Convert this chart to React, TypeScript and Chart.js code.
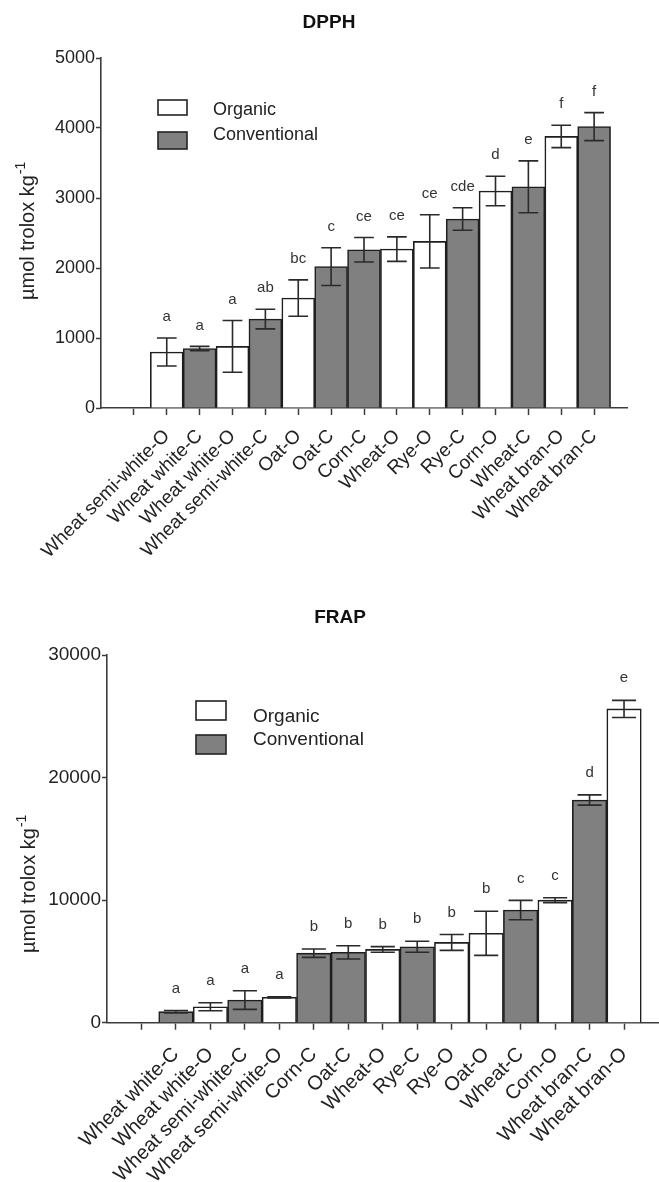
import React, { useEffect, useRef } from 'react';
import { Chart, registerables } from 'chart.js';

Chart.register(...registerables);

// ---------------- data ----------------
const dpphCategories = [
  'Wheat semi-white-O', 'Wheat white-C', 'Wheat white-O', 'Wheat semi-white-C',
  'Oat-O', 'Oat-C', 'Corn-C', 'Wheat-O', 'Rye-O', 'Rye-C', 'Corn-O', 'Wheat-C',
  'Wheat bran-O', 'Wheat bran-C',
];
const dpphMeans = [800, 850, 880, 1270, 1570, 2020, 2260, 2270, 2380, 2700, 3100, 3160, 3880, 4020];
const dpphErrors = [200, 30, 370, 140, 260, 270, 175, 175, 380, 160, 210, 370, 160, 200];
const dpphLetters = ['a', 'a', 'a', 'ab', 'bc', 'c', 'ce', 'ce', 'ce', 'cde', 'd', 'e', 'f', 'f'];
const dpphTicks = [0, 1000, 2000, 3000, 4000, 5000];

const frapCategories = [
  'Wheat white-C', 'Wheat white-O', 'Wheat semi-white-C', 'Wheat semi-white-O',
  'Corn-C', 'Oat-C', 'Wheat-O', 'Rye-C', 'Rye-O', 'Oat-O', 'Wheat-C', 'Corn-O',
  'Wheat bran-C', 'Wheat bran-O',
];
const frapMeans = [900, 1300, 1850, 2070, 5670, 5740, 5980, 6200, 6550, 7290, 9190, 10000, 18170, 25600];
const frapErrors = [100, 330, 760, 50, 340, 540, 230, 450, 650, 1800, 790, 200, 420, 700];
const frapLetters = ['a', 'a', 'a', 'a', 'b', 'b', 'b', 'b', 'b', 'b', 'c', 'c', 'd', 'e'];
const frapTicks = [0, 10000, 20000, 30000];

const seriesNames = ['Organic', 'Conventional'];
const yAxisTitleMain = 'µmol trolox kg';
const yAxisTitleSup = '-1';

// ---------------- styling ----------------
const FONT = '"Liberation Sans", Arial, Helvetica, sans-serif';
const GRAY = '#808080';
const WHITE = '#ffffff';
const INK = '#2a2a2a';
const AXIS = '#3c3c3c';

type Panel = {
  title: string;
  categories: string[];
  means: number[];
  errors: number[];
  letters: string[];
  ticks: number[];
  top: number;
  width: number;
  height: number;
  area: { left: number; top: number; right: number; bottom: number };
  font: number;
  xFont: number;
  xPad: number;
  titlePos: { x: number; y: number; size: number };
  yTitle: { x: number; y: number; size: number };
  legend: { boxX: number; boxW: number; box1: [number, number]; box2: [number, number]; textX: number; base1: number; base2: number };
  capRatio: number;
  letterGap: number;
};

const panels: Panel[] = [
  {
    title: 'DPPH',
    categories: dpphCategories,
    means: dpphMeans,
    errors: dpphErrors,
    letters: dpphLetters,
    ticks: dpphTicks,
    top: 0,
    width: 659,
    height: 585,
    area: { left: 101, top: 58, right: 627, bottom: 408 },
    font: 18,
    xFont: 19,
    xPad: 10,
    titlePos: { x: 329, y: 28, size: 19 },
    yTitle: { x: 34, y: 300, size: 20 },
    legend: { boxX: 158, boxW: 29, box1: [100, 15], box2: [132, 17], textX: 213, base1: 115, base2: 140 },
    capRatio: 0.6,
    letterGap: 21,
  },
  {
    title: 'FRAP',
    categories: frapCategories,
    means: frapMeans,
    errors: frapErrors,
    letters: frapLetters,
    ticks: frapTicks,
    top: 585,
    width: 659,
    height: 597,
    area: { left: 107, top: 70, right: 658.5, bottom: 437.7 },
    font: 19,
    xFont: 20,
    xPad: 13,
    titlePos: { x: 340, y: 38, size: 19 },
    yTitle: { x: 35, y: 368, size: 20 },
    legend: { boxX: 196, boxW: 30, box1: [116, 19], box2: [150, 19], textX: 253, base1: 136.7, base2: 160 },
    capRatio: 0.7,
    letterGap: 22,
  },
];

// ---------------- plugins ----------------
const errorBarsPlugin = {
  id: 'errorBarsLetters',
  afterDatasetsDraw(chart: any, _args: any, opts: any) {
    const { ctx } = chart;
    const y = chart.scales.y;
    chart.data.datasets.forEach((ds: any, di: number) => {
      const meta = chart.getDatasetMeta(di);
      meta.data.forEach((bar: any, i: number) => {
        const v = ds.data[i];
        if (v == null) return;
        const e = ds.errors[i] ?? 0;
        const pTop = y.getPixelForValue(v + e);
        const pBot = y.getPixelForValue(v - e);
        const half = (bar.width * opts.capRatio) / 2;
        ctx.save();
        ctx.strokeStyle = INK;
        ctx.lineWidth = 1.6;
        ctx.beginPath();
        ctx.moveTo(bar.x, pTop);
        ctx.lineTo(bar.x, pBot);
        ctx.moveTo(bar.x - half, pTop);
        ctx.lineTo(bar.x + half, pTop);
        ctx.moveTo(bar.x - half, pBot);
        ctx.lineTo(bar.x + half, pBot);
        ctx.stroke();
        const letter = ds.letters[i];
        if (letter) {
          ctx.fillStyle = '#333';
          ctx.font = `15px ${FONT}`;
          ctx.textAlign = 'center';
          ctx.textBaseline = 'middle';
          ctx.fillText(letter, bar.x, pTop - opts.letterGap);
        }
        ctx.restore();
      });
    });
  },
};

const panelDecorPlugin = {
  id: 'panelDecor',
  afterDraw(chart: any, _args: any, opts: any) {
    const { ctx } = chart;
    ctx.save();
    // title
    ctx.fillStyle = '#111';
    ctx.font = `bold ${opts.titlePos.size}px ${FONT}`;
    ctx.textAlign = 'center';
    ctx.textBaseline = 'alphabetic';
    ctx.fillText(opts.title, opts.titlePos.x, opts.titlePos.y);
    // y axis title with superscript
    const yt = opts.yTitle;
    ctx.save();
    ctx.translate(yt.x, yt.y);
    ctx.rotate(-Math.PI / 2);
    ctx.fillStyle = '#222';
    ctx.textAlign = 'left';
    ctx.textBaseline = 'alphabetic';
    ctx.font = `${yt.size}px ${FONT}`;
    ctx.fillText(yAxisTitleMain, 0, 0);
    const w = ctx.measureText(yAxisTitleMain).width;
    ctx.font = `${Math.round(yt.size * 0.68)}px ${FONT}`;
    ctx.fillText(yAxisTitleSup, w + 1, -yt.size * 0.45);
    ctx.restore();
    // legend
    const L = opts.legend;
    const boxes = [L.box1, L.box2];
    const bases = [L.base1, L.base2];
    chart.data.datasets.forEach((ds: any, i: number) => {
      const [by, bh] = boxes[i];
      ctx.fillStyle = ds.backgroundColor;
      ctx.fillRect(L.boxX, by, L.boxW, bh);
      ctx.strokeStyle = '#222';
      ctx.lineWidth = 1.6;
      ctx.strokeRect(L.boxX, by, L.boxW, bh);
      ctx.fillStyle = '#222';
      ctx.font = `${opts.font}px ${FONT}`;
      ctx.textAlign = 'left';
      ctx.textBaseline = 'alphabetic';
      ctx.fillText(ds.label, L.textX, bases[i]);
    });
    ctx.restore();
  },
};

function buildConfig(p: Panel): any {
  const labels = ['', '', ...p.categories, ''];
  const lastIndex = labels.length - 1;
  const mk = (suffix: string) => labels.map((_, i) => {
    const k = i - 2;
    if (k < 0 || k >= p.categories.length) return null;
    return p.categories[k].endsWith(suffix) ? p.means[k] : null;
  });
  const errs = labels.map((_, i) => {
    const k = i - 2;
    return k >= 0 && k < p.errors.length ? p.errors[k] : null;
  });
  const lets = labels.map((_, i) => {
    const k = i - 2;
    return k >= 0 && k < p.letters.length ? p.letters[k] : null;
  });
  const barCommon = {
    borderColor: '#1e1e1e',
    borderWidth: 1.6,
    borderSkipped: 'start',
    categoryPercentage: 1,
    barPercentage: 1,
    grouped: false,
    errors: errs,
    letters: lets,
  };
  return {
    type: 'bar',
    data: {
      labels,
      datasets: [
        { ...barCommon, label: seriesNames[0], data: mk('-O'), backgroundColor: WHITE },
        { ...barCommon, label: seriesNames[1], data: mk('-C'), backgroundColor: GRAY },
      ],
    },
    options: {
      animation: false,
      responsive: false,
      devicePixelRatio: 1,
      layout: {
        padding: { top: p.area.top, left: 0, right: p.width - p.area.right, bottom: 0 },
      },
      plugins: {
        legend: { display: false },
        title: { display: false },
        tooltip: { enabled: false },
        errorBarsLetters: { capRatio: p.capRatio, letterGap: p.letterGap },
        panelDecor: { title: p.title, titlePos: p.titlePos, yTitle: p.yTitle, legend: p.legend, font: p.font },
      },
      scales: {
        x: {
          type: 'category',
          offset: false,
          grid: {
            offset: false,
            drawOnChartArea: false,
            drawTicks: true,
            tickLength: 7,
            tickWidth: 1.5,
            tickColor: (c: any) => (c.index === 0 || c.index === lastIndex ? 'rgba(0,0,0,0)' : AXIS),
          },
          border: { display: true, color: AXIS, width: 1.6 },
          ticks: {
            autoSkip: false,
            minRotation: 45,
            maxRotation: 45,
            padding: p.xPad,
            color: '#222',
            font: { family: FONT, size: p.xFont },
          },
          afterFit: (s: any) => {
            s.height = p.height - p.area.bottom;
            s.paddingLeft = 0;
            s.paddingRight = 0;
          },
        },
        y: {
          min: 0,
          max: p.ticks[p.ticks.length - 1],
          afterBuildTicks: (s: any) => {
            s.ticks = p.ticks.map((v) => ({ value: v }));
          },
          grid: {
            drawOnChartArea: false,
            drawTicks: true,
            tickLength: 5,
            tickWidth: 1.5,
            tickColor: AXIS,
          },
          border: { display: true, color: AXIS, width: 1.6 },
          ticks: {
            padding: 1,
            color: '#222',
            font: { family: FONT, size: p.font },
            callback: (v: any) => String(v),
          },
          title: { display: false },
          afterFit: (s: any) => {
            s.width = p.area.left;
          },
        },
      },
    },
    plugins: [errorBarsPlugin, panelDecorPlugin],
  };
}

function BarPanel({ panel }: { panel: Panel }) {
  const ref = useRef<HTMLCanvasElement>(null);
  useEffect(() => {
    const chart = new Chart(ref.current as HTMLCanvasElement, buildConfig(panel));
    return () => chart.destroy();
  }, [panel]);
  return (
    <div style={{ position: 'absolute', left: 0, top: panel.top, width: panel.width, height: panel.height }}>
      <canvas ref={ref} width={panel.width} height={panel.height} style={{ display: 'block' }} />
    </div>
  );
}

export default function App() {
  return (
    <div style={{ position: 'absolute', left: 0, top: 0, width: 659, height: 1182, background: '#fff' }}>
      {panels.map((p) => (
        <BarPanel key={p.title} panel={p} />
      ))}
    </div>
  );
}
